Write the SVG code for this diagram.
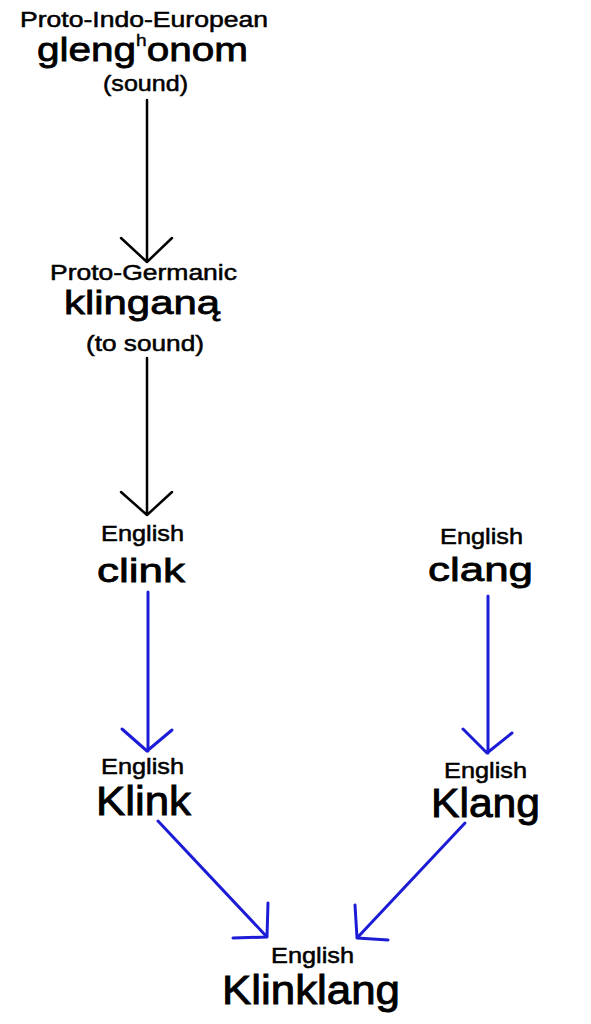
<svg xmlns="http://www.w3.org/2000/svg" width="591" height="1024" viewBox="0 0 591 1024">
<style>
text{font-family:"Liberation Sans",Arial,Helvetica,sans-serif;fill:#000;stroke:#000;stroke-width:0.5;text-anchor:middle}
.lab{font-size:21.5px}
.big{font-size:34px;stroke-width:0.8}
.huge{font-size:40px;stroke-width:0.9}
.k{stroke:#000;stroke-width:2.5;fill:none;stroke-linecap:round;stroke-linejoin:round}
.b{stroke:#1c1cd6;stroke-width:3;fill:none;stroke-linecap:round;stroke-linejoin:round}
</style>
<rect width="591" height="1024" fill="#fff"/>
<g id="connectors">
<path class="k" d="M147 100V262M121 238L147 262L172 238"/>
<path class="k" d="M147 358V515M121 492L147 515L172 492"/>
<path class="b" d="M148 592V751M122 729L147 751L172 730"/>
<path class="b" d="M488 596V753M463 729L487 753L512 733"/>
<path class="b" d="M158 821L267 937M268 903L267 937L233 938"/>
<path class="b" d="M465 823L357 938M355 905L357 938L388 940"/>
</g>
<g id="pie">
<text class="lab" x="144" y="27" textLength="248" lengthAdjust="spacingAndGlyphs">Proto-Indo-European</text>
<text class="big" x="142.5" y="61" textLength="211" lengthAdjust="spacingAndGlyphs">gleng<tspan font-size="16" stroke-width="0.4" dy="-15">h</tspan><tspan dy="15">onom</tspan></text>
<text class="lab" x="145.5" y="91" textLength="85" lengthAdjust="spacingAndGlyphs">(sound)</text>
</g>
<g id="pgm">
<text class="lab" x="143.5" y="280" textLength="187" lengthAdjust="spacingAndGlyphs">Proto-Germanic</text>
<text class="big" x="142" y="314" textLength="156" lengthAdjust="spacingAndGlyphs">klinganą</text>
<text class="lab" x="145" y="351" textLength="118" lengthAdjust="spacingAndGlyphs">(to sound)</text>
</g>
<g id="clink">
<text class="lab" x="142.5" y="541" textLength="83" lengthAdjust="spacingAndGlyphs">English</text>
<text class="big" x="141" y="582" textLength="88" lengthAdjust="spacingAndGlyphs">clink</text>
</g>
<g id="clang">
<text class="lab" x="481.5" y="544" textLength="83" lengthAdjust="spacingAndGlyphs">English</text>
<text class="big" x="480.5" y="581" textLength="105" lengthAdjust="spacingAndGlyphs">clang</text>
</g>
<g id="Klink">
<text class="lab" x="142.5" y="774" textLength="83" lengthAdjust="spacingAndGlyphs">English</text>
<text class="huge" x="143.5" y="815" textLength="95" lengthAdjust="spacingAndGlyphs">Klink</text>
</g>
<g id="Klang">
<text class="lab" x="485.5" y="778" textLength="83" lengthAdjust="spacingAndGlyphs">English</text>
<text class="huge" x="485.5" y="817" textLength="109" lengthAdjust="spacingAndGlyphs">Klang</text>
</g>
<g id="Klinklang">
<text class="lab" x="312.5" y="963" textLength="83" lengthAdjust="spacingAndGlyphs">English</text>
<text class="huge" x="311" y="1004" font-size="43" textLength="178" lengthAdjust="spacingAndGlyphs">Klinklang</text>
</g>
</svg>
